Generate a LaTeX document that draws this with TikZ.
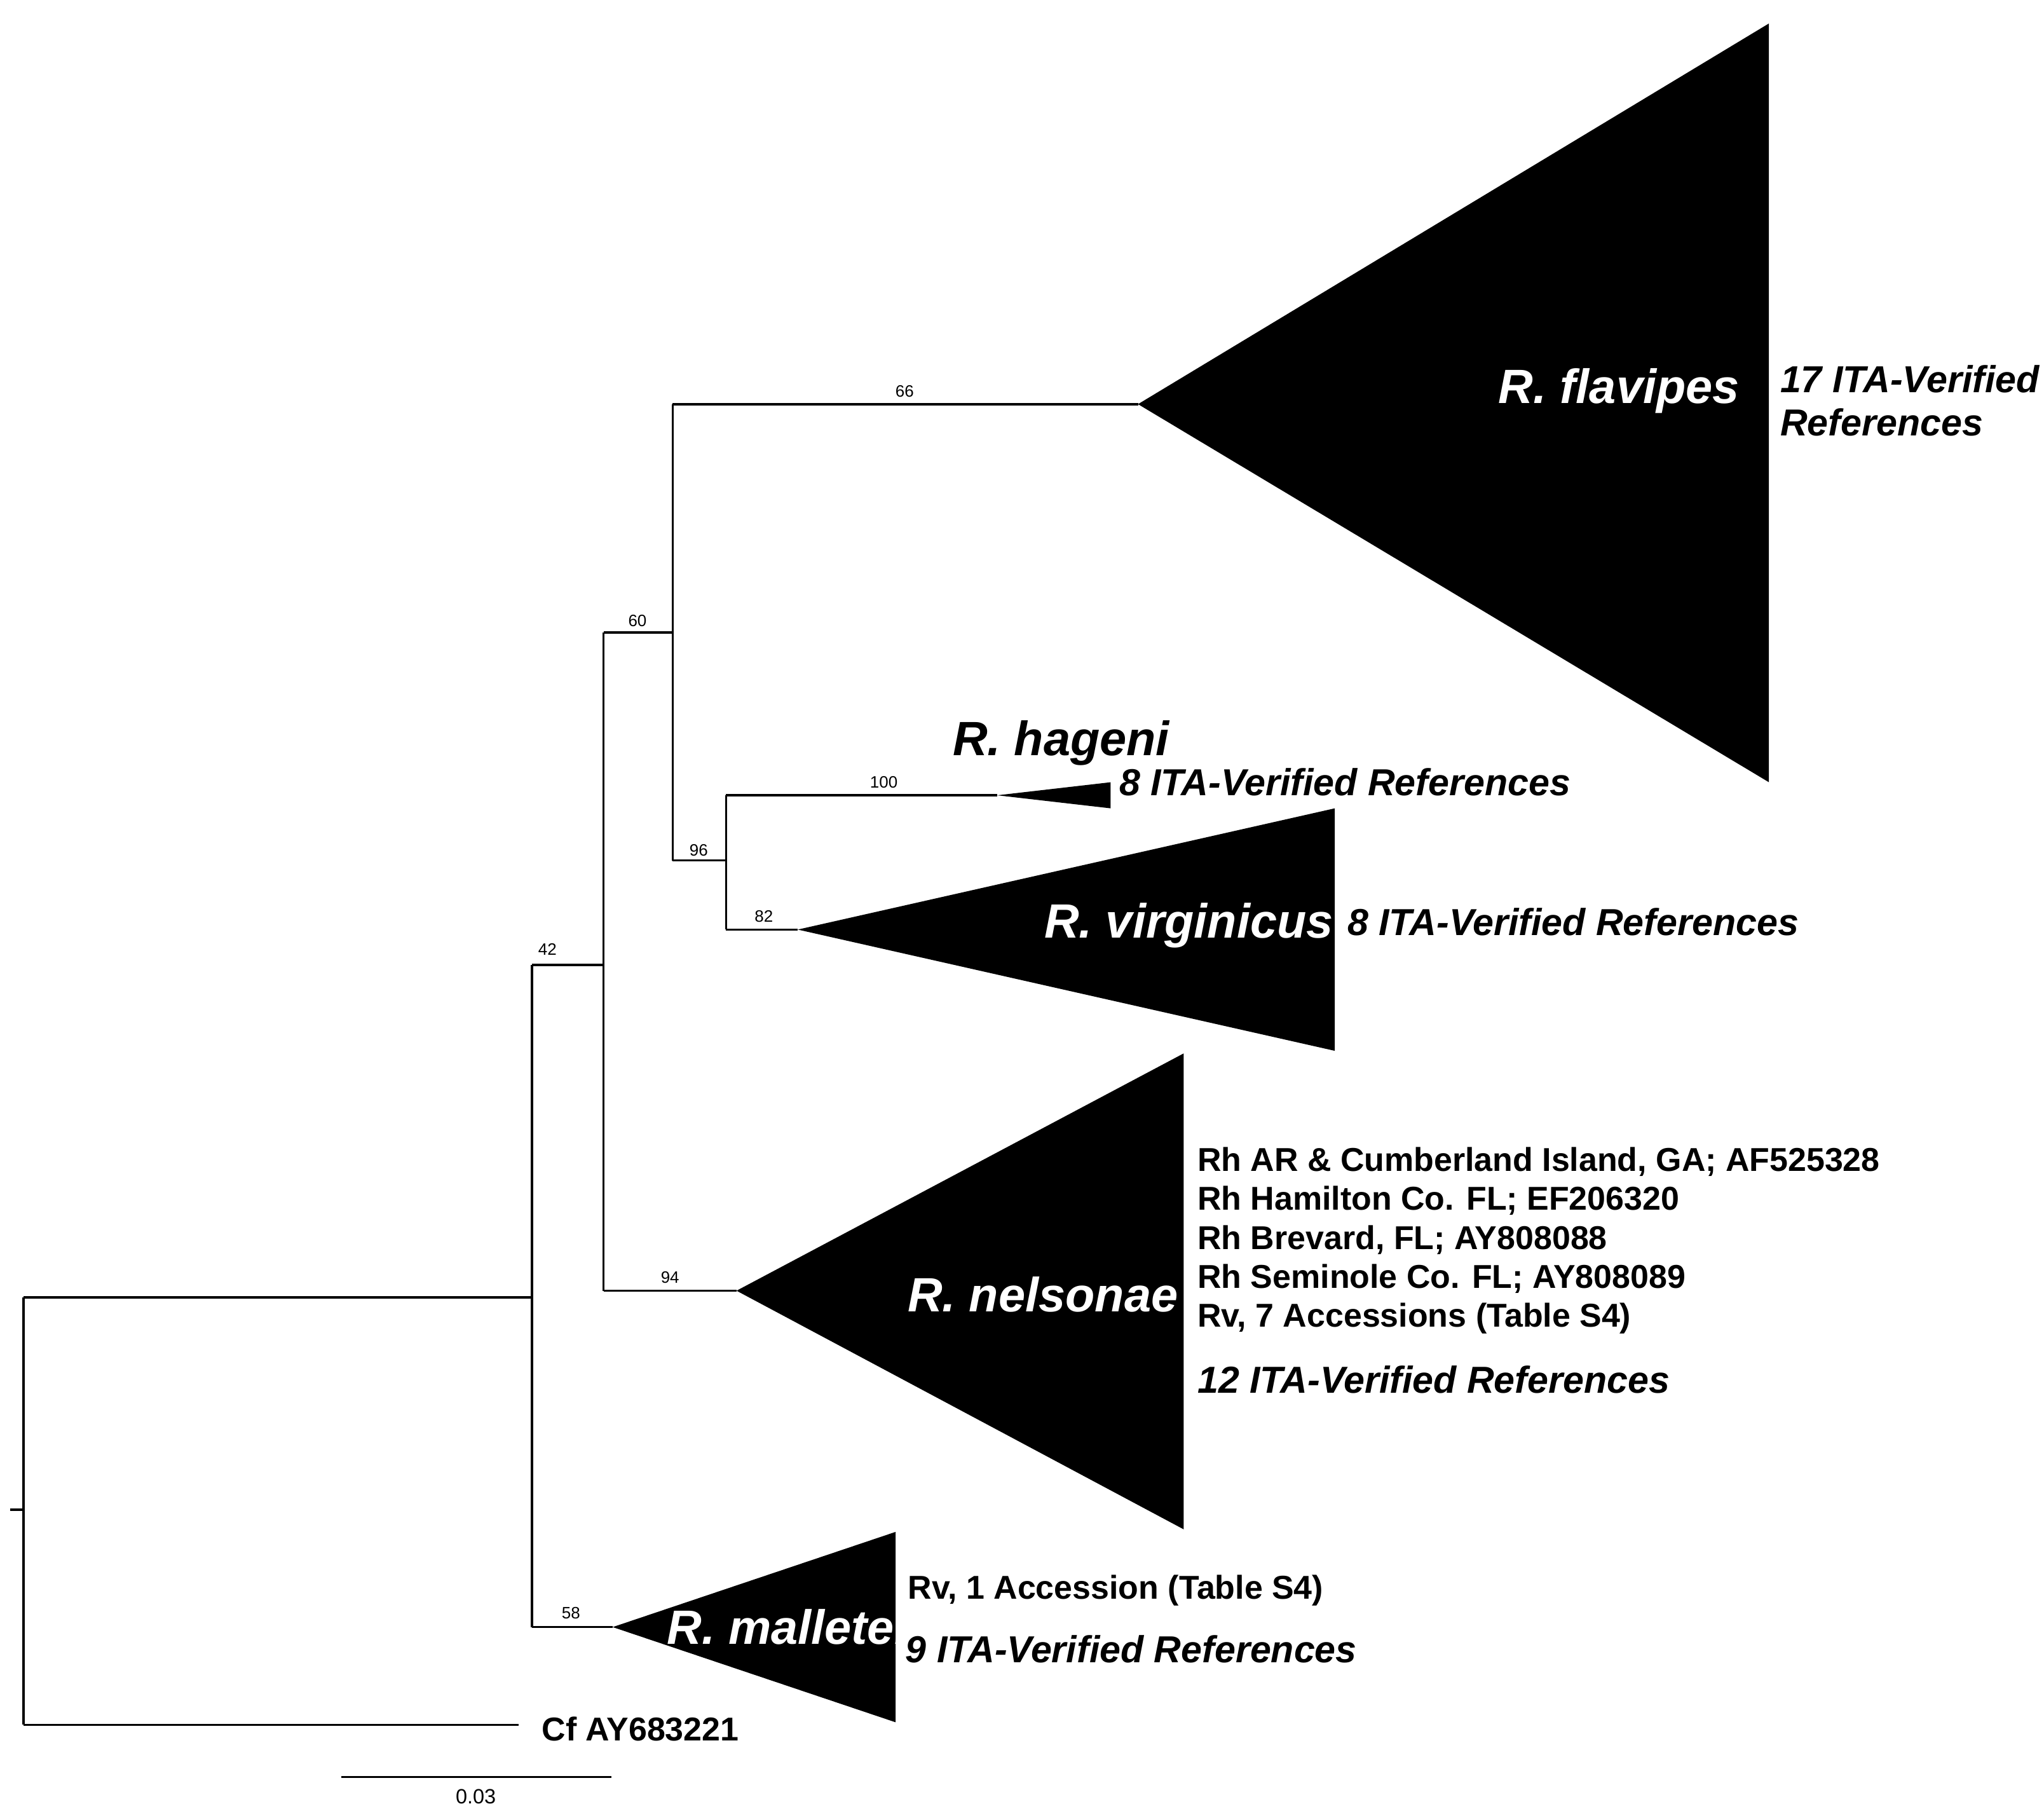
\documentclass[tikz,border=0pt]{standalone}
\usepackage{fontspec}
\setmainfont{Liberation Sans}
\begin{document}
\begin{tikzpicture}[x=0.01cm,y=-0.01cm,
  br/.style={line width=0.5pt},
  bs/.style={font=\fontsize{3.6}{4}\selectfont,inner sep=0pt},
  sp/.style={font=\fontsize{10.5}{12}\selectfont\bfseries\itshape,text=white,inner sep=0pt},
  ita/.style={font=\fontsize{8.2}{10}\selectfont\bfseries\itshape,inner sep=0pt,anchor=west},
  acc/.style={font=\fontsize{7.2}{9}\selectfont\bfseries,inner sep=0pt,anchor=west},
  tri/.style={fill=black}]
\useasboundingbox (0,0) rectangle (1568,1394);
% coordinates
\coordinate (r0) at (8,1158); \coordinate (r) at (18,1158);
\coordinate (n1) at (408,995); \coordinate (cf) at (398,1323);
\coordinate (n2) at (463,740); \coordinate (n6) at (470,1248);
\coordinate (n3) at (516,485); \coordinate (n5) at (565,990);
\coordinate (n4) at (557,660);
\coordinate (fl) at (873,310); \coordinate (ha) at (765,610); \coordinate (vi) at (612,713);
% branches
\draw[br] (r0) -- (r);
\draw[br] (18,995) -- (18,1323);
\draw[br] (18,995) -- (n1);
\draw[br] (18,1323) -- (cf);
\draw[br] (408,740) -- (408,1248);
\draw[br] (408,740) -- (n2);
\draw[br] (408,1248) -- (n6);
\draw[br] (463,485) -- (463,990);
\draw[br] (463,485) -- (n3);
\draw[br] (463,990) -- (n5);
\draw[br] (516,310) -- (516,660);
\draw[br] (516,310) -- (fl);
\draw[br] (516,660) -- (n4);
\draw[br] (557,610) -- (557,713);
\draw[br] (557,610) -- (ha);
\draw[br] (557,713) -- (vi);
% triangles
\fill[tri] (fl) -- (1357,18) -- (1357,600) -- cycle;
\fill[tri] (ha) -- (852,600) -- (852,620) -- cycle;
\fill[tri] (vi) -- (1024,620) -- (1024,806) -- cycle;
\fill[tri] (n5) -- (908,808) -- (908,1173) -- cycle;
\fill[tri] (n6) -- (687,1175) -- (687,1321) -- cycle;
% bootstrap
\node[bs] (b42) at (420,728) {42};
\node[bs] (b60) at (489,476) {60};
\node[bs] (b66) at (694,300) {66};
\node[bs] (b96) at (536,652) {96};
\node[bs] (b100) at (678,600) {100};
\node[bs] (b82) at (586,703) {82};
\node[bs] (b94) at (514,980) {94};
\node[bs] (b58) at (438,1237) {58};
% species
\node[sp] (sfl) at (1242,300) {R. flavipes};
\node[sp,text=black] (sha) at (814,570) {R. hageni};
\node[sp] (svi) at (912,710) {R. virginicus};
\node[sp] (sne) at (800,993) {R. nelsonae};
\node[sp] (sma) at (604,1248) {R. malletei};
% refs
\node[ita] (t1) at (1365,291) {17 ITA-Verified};
\node[ita] (t1b) at (1365,324) {References};
\node[ita] (t2) at (858,600) {8 ITA-Verified References};
\node[ita] (t3) at (1033,707) {8 ITA-Verified References};
\node[acc] (a1) at (918,891) {Rh AR \& Cumberland Island, GA; AF525328};
\node[acc] (a2) at (918,921) {Rh Hamilton Co. FL; EF206320};
\node[acc] (a3) at (918,951) {Rh Brevard, FL; AY808088};
\node[acc] (a4) at (918,981) {Rh Seminole Co. FL; AY808089};
\node[acc] (a5) at (918,1011) {Rv, 7 Accessions (Table S4)};
\node[ita] (t4) at (918,1058) {12 ITA-Verified References};
\node[acc] (a6) at (696,1220) {Rv, 1 Accession (Table S4)};
\node[ita] (t5) at (694,1265) {9 ITA-Verified References};
\node[acc] (cfl) at (415,1326) {Cf AY683221};
% scale
\coordinate (s1) at (262,1363); \coordinate (s2) at (469,1363);
\draw[br] (s1) -- (s2);
\node[bs,font=\fontsize{4.5}{5}\selectfont] (sl) at (365,1378) {0.03};
\end{tikzpicture}
\end{document}
